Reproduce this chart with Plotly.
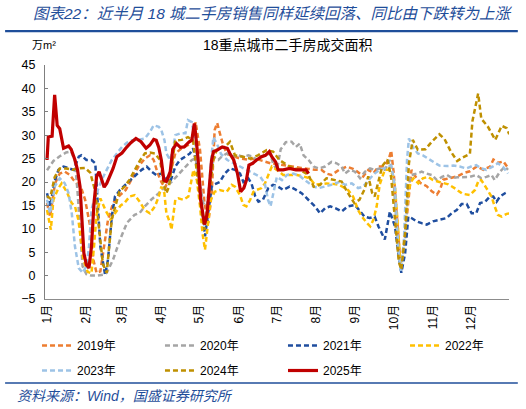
import plotly.graph_objects as go

# ---------------- data (x = day of year, y = 万m², 7-day avg) ----------------
months = ["1月", "2月", "3月", "4月", "5月", "6月", "7月", "8月", "9月", "10月", "11月", "12月"]
month_days = [0, 31, 59, 90, 120, 151, 181, 212, 243, 273, 304, 334]

d2019 = [0, 2.4, 6.3, 10, 14, 18, 21, 24, 27, 30, 34, 36.5, 39, 42, 44, 48, 52, 57.5, 62, 66.7, 72, 77, 81, 84, 87, 90,
         93, 97, 101, 106, 111, 115, 117, 120.5, 124, 127, 129.7, 132, 134, 136, 139, 142, 147, 152, 158, 164, 170, 176,
         182, 188, 194, 200, 206, 211, 216, 220, 224, 230, 236, 241, 244, 249, 253, 257, 261, 265, 269, 271, 273, 276,
         278.5, 281, 284, 287, 290, 294, 299, 303, 307, 309.6, 312, 318, 323, 328, 333, 338.5, 343.7, 349, 351.5, 355.5,
         359.4, 363]
v2019 = [15.5, 12.6, 19.7, 21.8, 22.2, 21.5, 20.4, 19.5, 18.7, 16.2, 10.5, 3.4, 0.6, 0.9, 4.8, 11.9, 15.5, 17.2, 18.3,
         20.8, 23.3, 25.0, 25.7, 24.7, 22.0, 20.0, 18.7, 21.8, 26.1, 27.2, 27.9, 29.6, 32.8, 26.8, 15.5, 11.2, 17.6, 31.1,
         32.6, 30.5, 27.6, 26.0, 25.5, 25.0, 24.8, 25.0, 24.5, 24.0, 23.8, 23.5, 23.3, 23.0, 22.8, 22.6, 22.6, 21.8, 21.5,
         22.6, 23.3, 22.8, 22.3, 21.2, 22.6, 21.9, 23.3, 23.3, 24.8, 26.7, 22.0, 10.0, 2.0, 6.0, 15.0, 22.6, 21.2, 19.8,
         19.1, 18.0, 17.3, 18.4, 20.5, 20.9, 21.2, 21.9, 22.3, 23.3, 22.6, 23.3, 24.8, 24.1, 24.4, 23.0]

d2020 = [0, 5, 10, 15, 19, 22, 24, 26, 28, 31, 35, 40, 44, 47, 52, 57.5, 63, 69, 73, 77, 82, 88, 93, 98, 103, 108.7,
         114, 117, 119, 123, 125.7, 128, 131, 134.9, 137.5, 141.5, 145.4, 150.6, 154.6, 158.5, 162.5, 165, 167.7, 171.6,
         175.6, 178, 181, 184, 188, 192.6, 196, 199, 202, 206, 210, 214, 219, 224, 228, 232, 234.6, 238.6, 242.5, 246.5,
         250.4, 254.3, 258.3, 262, 266, 270, 272.7, 275, 277, 279, 282, 284.5, 287, 291, 295, 299, 303, 307, 311, 315,
         319, 323, 328, 333, 338, 342, 346, 350, 352.5, 356.7, 360.6, 363]
v2020 = [22.5, 24.5, 25.5, 26.3, 26.5, 24.5, 18.0, 9.0, 2.0, 0.3, 0.0, 0.0, 0.2, 0.6, 3.4, 7.7, 11.3, 13.0, 13.4, 14.8,
         16.2, 17.6, 19.0, 20.0, 21.5, 23.3, 24.7, 25.0, 21.8, 15.5, 14.8, 19.0, 25.4, 24.7, 25.4, 26.1, 25.4, 25.7, 25.4,
         25.7, 25.4, 24.7, 25.4, 25.7, 26.1, 24.0, 22.5, 27.0, 28.5, 28.6, 27.5, 28.2, 25.7, 24.7, 23.3, 22.9, 23.3, 24.3,
         24.0, 23.3, 21.8, 22.6, 22.2, 20.8, 22.2, 22.9, 22.6, 22.9, 22.6, 24.7, 21.1, 12.0, 4.0, 1.5, 8.0, 19.0, 21.5,
         21.8, 22.2, 21.8, 21.5, 20.4, 21.1, 21.5, 20.8, 21.0, 21.0, 21.1, 21.5, 20.8, 21.1, 21.5, 20.4, 22.2, 23.3, 22.6]

d2021 = [0, 2.4, 6.3, 9, 13, 17, 21, 25, 27, 31, 35, 38, 40, 42, 45.7, 48, 51, 53.5, 57.5, 61.4, 66, 70, 74.5, 78.5,
         82.4, 86, 90, 94, 97, 101, 104.7, 108.7, 112.6, 115, 119, 122.4, 124.4, 126.5, 129.7, 132, 136, 140, 144, 148,
         152, 154.6, 158.5, 161, 164, 166.5, 170, 174.3, 178, 182, 186, 191, 195, 200.5, 206, 211, 215, 219, 223, 227,
         232, 237, 242.5, 246, 250, 254, 258, 261, 266, 270, 274, 276.7, 279, 282, 284.5, 287, 291, 295, 299, 304, 309,
         314.7, 318.6, 322.6, 326.5, 330.5, 334.4, 338, 341, 345, 348.8, 351.4, 354, 356.7, 360.6, 363]
v2021 = [17.6, 14.8, 20.4, 22.6, 23.3, 22.9, 22.6, 25.4, 25.7, 24.7, 24.7, 24.0, 16.2, 6.2, 0.2, 3.4, 12.6, 16.9, 18.3,
         19.4, 20.5, 21.5, 22.6, 23.3, 22.2, 21.5, 21.8, 20.8, 20.0, 23.3, 24.7, 25.4, 26.1, 27.2, 22.6, 13.3, 8.4, 12.6,
         19.0, 19.5, 20.0, 21.8, 22.9, 22.6, 21.8, 20.0, 20.8, 19.7, 16.9, 15.8, 16.2, 18.7, 19.4, 19.0, 18.3, 19.0, 18.5,
         17.6, 16.2, 14.8, 13.3, 14.4, 14.8, 14.4, 13.7, 14.8, 15.1, 14.0, 12.6, 12.3, 12.6, 10.5, 7.7, 13.7, 10.5, 4.8,
         0.6, 4.8, 12.6, 12.3, 11.6, 11.2, 10.9, 11.6, 12.0, 12.3, 13.3, 14.0, 15.3, 15.3, 13.3, 13.3, 15.5, 15.8, 16.9,
         16.9, 15.8, 16.9, 17.6, 17.9]

d2022 = [0, 3, 5, 9, 11.5, 15.5, 19.4, 22, 24.7, 28.6, 32, 35, 37, 39, 42, 46, 50, 54, 58, 61, 65, 69, 73, 77, 81, 85,
         88, 90, 92.4, 94, 97, 98, 101, 103.4, 107.4, 111.3, 115.3, 118, 120.5, 122.4, 124.4, 126.5, 129, 132, 136,
         141.5, 145.4, 148, 152, 154.6, 157, 160, 162.5, 165, 169, 171.6, 174.3, 177, 181, 186, 191, 197, 203, 207, 211,
         215, 220, 225, 230, 237, 241, 245, 248, 252, 254.5, 257, 259.6, 262, 266, 271, 274, 276.7, 278.5, 281, 284, 286,
         288.5, 292.4, 296, 300, 304, 309, 316, 322, 327, 333, 337, 340, 342, 346, 350, 352.5, 355, 358, 362, 364]
v2022 = [14.0, 9.8, 16.2, 18.7, 19.7, 17.9, 15.5, 14.8, 11.9, 3.4, 0.8, 0.5, 6.2, 13.0, 16.5, 14.0, 12.0, 13.5, 15.0,
         15.5, 16.9, 17.2, 15.8, 14.0, 13.3, 14.8, 16.9, 19.0, 17.6, 13.3, 11.2, 9.8, 16.2, 16.5, 16.2, 16.9, 22.6, 20.4,
         14.8, 9.1, 5.5, 10.5, 16.2, 17.9, 18.3, 17.9, 19.4, 19.0, 17.2, 15.1, 14.8, 16.2, 17.9, 18.3, 18.7, 19.7, 21.5,
         23.3, 22.6, 21.5, 21.5, 21.5, 21.1, 20.8, 19.4, 19.6, 19.7, 19.6, 19.4, 18.3, 16.9, 14.0, 12.6, 11.2, 10.5, 11.9,
         14.8, 19.5, 22.6, 22.6, 19.0, 9.1, 1.6, 7.0, 16.2, 19.7, 20.8, 19.7, 20.8, 21.1, 20.4, 20.0, 19.5, 18.5, 17.5,
         17.2, 18.3, 20.4, 20.4, 18.7, 16.9, 14.8, 13.0, 12.6, 13.2, 13.3]

d2023 = [0, 2.4, 6, 10, 14, 17, 19.5, 22, 25, 28, 31, 33, 35, 37, 39, 43, 47, 51, 55, 59, 63, 67, 72, 77, 81, 84, 88, 90,
         92.5, 94, 97, 99.5, 101, 105, 109, 111, 114, 116.5, 119, 122, 124, 126.5, 129, 131, 134, 137, 142, 147, 152,
         157, 162, 168, 171.5, 174, 176, 178, 181, 185, 189, 194, 199, 204, 210, 214, 219, 224, 230, 235, 240, 245, 249,
         253, 258, 262, 266, 271, 274, 276.5, 278.5, 281, 283.5, 285, 288, 292, 296, 300, 305, 309, 315, 320, 325, 330,
         334, 338, 342, 346, 351, 355, 359, 363]
v2023 = [16.2, 13.3, 19.0, 20.8, 19.7, 17.6, 13.3, 6.2, 1.6, 0.6, 2.0, 6.0, 14.0, 16.2, 17.6, 20.4, 22.6, 24.7, 26.1,
         27.5, 28.4, 28.9, 29.0, 29.3, 30.7, 32.1, 31.8, 31.1, 28.9, 26.1, 24.7, 27.5, 30.0, 30.4, 30.4, 33.2, 32.8, 28.9,
         22.6, 13.3, 10.5, 14.8, 24.0, 29.6, 28.0, 26.0, 24.7, 24.0, 23.3, 22.6, 21.8, 21.1, 19.7, 16.2, 14.8, 17.6, 21.1,
         20.4, 21.5, 21.8, 21.3, 20.2, 19.0, 18.7, 19.0, 19.4, 20.0, 19.4, 19.7, 18.7, 19.0, 20.4, 21.8, 22.6, 23.0, 23.5,
         19.0, 6.2, 1.0, 7.0, 24.7, 29.3, 27.5, 26.1, 25.7, 25.0, 24.3, 23.5, 23.4, 23.5, 23.3, 22.9, 23.3, 23.6, 22.9,
         22.6, 23.3, 24.0, 23.3, 21.8]

d2024 = [0, 2.4, 6, 10, 15, 20, 25, 30, 34, 38, 41, 44, 47, 51, 57, 61, 65, 69, 73, 77, 81, 85, 89, 92, 94, 96, 101,
         106, 111, 115, 118, 120, 122, 124, 127, 131, 134, 140, 144, 148, 154, 160, 166, 173, 178, 183, 191, 199, 206,
         210, 215, 220, 227, 232, 237, 242, 246, 250, 253, 256, 258, 261, 264, 268, 271, 274, 277, 279, 282, 285, 288,
         292, 298, 303, 309, 313, 318, 323, 327, 333, 335, 339.5, 342, 347, 353, 358, 362, 364]
v2024 = [17.0, 16.5, 21.0, 22.9, 22.9, 22.6, 22.9, 23.0, 22.0, 18.0, 10.0, 2.5, 0.6, 12.0, 18.0, 19.0, 20.5, 22.6, 24.5,
         26.1, 26.3, 26.1, 24.7, 19.5, 17.6, 19.0, 28.9, 29.0, 29.6, 28.9, 22.0, 17.6, 13.0, 9.8, 16.2, 24.7, 27.2, 27.5,
         28.6, 25.7, 25.4, 25.0, 25.7, 26.8, 26.5, 24.7, 23.3, 22.6, 21.5, 19.0, 19.4, 20.8, 20.4, 20.1, 17.6, 15.5, 16.2,
         18.4, 21.2, 17.7, 16.9, 20.5, 23.4, 24.8, 21.0, 12.0, 3.0, 1.3, 9.0, 24.0, 29.0, 26.9, 27.0, 28.6, 30.2, 29.2,
         26.5, 24.5, 25.2, 26.0, 33.0, 38.9, 33.5, 31.9, 29.0, 32.0, 31.5, 30.2]

d2025 = [0, 1, 4, 6, 8, 10, 13, 17, 19, 22, 24, 26, 29, 31, 33, 35, 37, 39, 41, 43, 45, 47, 50, 52, 55, 59, 62, 66, 70,
         74, 78, 81, 84, 86, 88, 90, 92, 94, 97, 99, 102, 105, 108, 112, 114, 116, 117, 119, 121, 124, 126, 127.5, 129.5,
         131, 134, 138, 142, 144, 147, 150, 152.5, 155, 157, 159, 162, 165, 169, 172, 175, 177, 180, 182, 186, 191, 196,
         200, 204, 206]
v2025 = [24.7, 29.6, 29.8, 38.6, 32.1, 31.4, 27.2, 27.7, 27.0, 24.7, 22.6, 19.0, 4.8, 2.3, 1.6, 6.2, 15.5, 21.1, 22.2,
         20.4, 18.9, 19.7, 21.5, 22.9, 25.4, 26.2, 27.2, 28.4, 29.3, 28.6, 27.2, 27.9, 29.1, 28.9, 27.4, 24.7, 20.4, 20.1,
         22.2, 27.0, 28.2, 27.4, 27.5, 28.6, 28.9, 32.5, 30.4, 24.7, 16.2, 10.9, 13.0, 19.0, 24.5, 26.5, 26.8, 27.5, 27.2,
         26.1, 24.7, 21.8, 17.9, 18.7, 20.4, 23.6, 24.0, 24.7, 25.4, 25.7, 26.5, 25.4, 24.3, 22.6, 22.6, 22.9, 22.6, 22.6,
         22.6, 21.8]

# ---------------- figure ----------------
FONT = "Liberation Sans, Arial, Noto Sans CJK SC, sans-serif"
BLUE = "#1F4E9A"
DASH = "5px,3px"

# name, x, y, colour, dash, width, legend id
series = [
    ("2019年", d2019, v2019, "#ED7D31", DASH, 2.5, "legend"),
    ("2020年", d2020, v2020, "#A5A5A5", DASH, 2.5, "legend2"),
    ("2021年", d2021, v2021, "#1F4E9F", DASH, 2.5, "legend3"),
    ("2022年", d2022, v2022, "#FFC000", DASH, 2.5, "legend4"),
    ("2023年", d2023, v2023, "#9DC3E6", DASH, 2.5, "legend5"),
    ("2024年", d2024, v2024, "#BF9000", DASH, 2.5, "legend6"),
    ("2025年", d2025, v2025, "#C00000", "solid", 3.2, "legend7"),
]

fig = go.Figure()
for name, xs, ys, color, dash, w, lg in series:
    fig.add_trace(go.Scatter(x=xs, y=ys, mode="lines", name=name, legend=lg,
                             line=dict(color=color, width=w, dash=dash)))

col_x = [-0.0172, 0.2478, 0.5129, 0.7759]
row_y = [-0.137, -0.2436]
leg_pos = [(col_x[0], row_y[0]), (col_x[1], row_y[0]), (col_x[2], row_y[0]), (col_x[3], row_y[0]),
           (col_x[0], row_y[1]), (col_x[1], row_y[1]), (col_x[2], row_y[1])]
legend_layout = {}
for i, (lx, ly) in enumerate(leg_pos):
    key = "legend" if i == 0 else f"legend{i + 1}"
    legend_layout[key] = dict(orientation="h", xanchor="left", yanchor="top", x=lx, y=ly,
                              itemwidth=30, font=dict(family=FONT, size=12, color="#000"),
                              bgcolor="rgba(0,0,0,0)")

fig.update_layout(
    width=526, height=409,
    margin=dict(l=45, r=17, t=65, b=110, autoexpand=False),
    paper_bgcolor="white", plot_bgcolor="white",
    font=dict(family=FONT, size=12, color="#000"),
    showlegend=True,
    xaxis=dict(range=[-1.6, 363.8], tickmode="array", tickvals=month_days, ticktext=months,
               tickangle=-90, showgrid=False, zeroline=False, showline=True, automargin=False,
               linecolor="#8C8C8C", linewidth=1, ticks="", tickfont=dict(size=12, color="#000")),
    yaxis=dict(range=[-5, 45], dtick=5, tick0=0, showgrid=False, zeroline=False, showline=True,
               automargin=False,
               linecolor="#7F7F7F", linewidth=1, ticks="inside", ticklen=3, tickcolor="#7F7F7F",
               ticklabelstandoff=6, tickfont=dict(size=12.5, color="#000")),
    **legend_layout,
)

fig.add_annotation(xref="paper", yref="paper", x=-0.030, y=1.222, xanchor="left", yanchor="middle",
                   align="left",
                   text="<i>图表22：近半月 18 城二手房销售同样延续回落、同比由下跌转为上涨</i>",
                   showarrow=False, font=dict(family=FONT, size=15.5, color=BLUE))
fig.add_annotation(xref="paper", yref="paper", x=0.524, y=1.085, xanchor="center", yanchor="middle",
                   text="18重点城市二手房成交面积", showarrow=False,
                   font=dict(family=FONT, size=14, color="#000"))
fig.add_annotation(xref="paper", yref="paper", x=-0.033, y=1.085, xanchor="left", yanchor="middle",
                   align="left",
                   text="万m²", showarrow=False, font=dict(family=FONT, size=11, color="#000"))
fig.add_annotation(xref="paper", yref="paper", x=-0.0645, y=-0.415, xanchor="left", yanchor="middle",
                   align="left",
                   text="<i>资料来源：Wind，国盛证券研究所</i>", showarrow=False,
                   font=dict(family=FONT, size=14, color=BLUE))

fig.add_shape(type="line", xref="paper", yref="paper", x0=-0.086, x1=1.019, y0=1.145, y1=1.145,
              line=dict(color=BLUE, width=2.2))
fig.add_shape(type="line", xref="paper", yref="paper", x0=-0.086, x1=1.019, y0=-0.359, y1=-0.359,
              line=dict(color=BLUE, width=1.5))

fig.write_html("out.html", config={"displayModeBar": False},
               post_script="document.body.style.margin='0';document.body.style.overflow='hidden';")
